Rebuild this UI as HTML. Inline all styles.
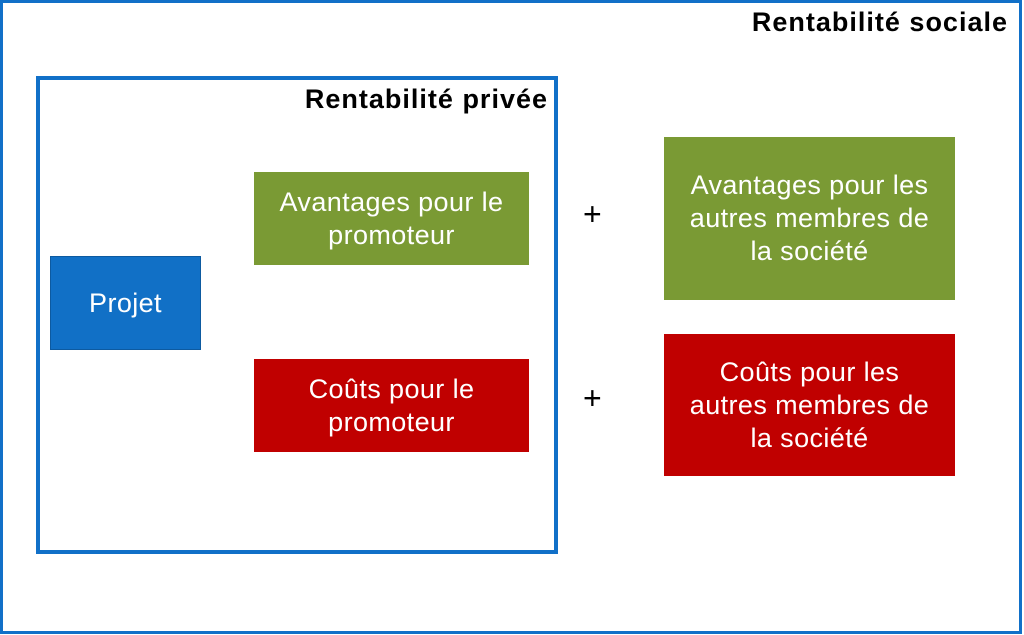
<!DOCTYPE html>
<html><head><style>
body{margin:0;width:1024px;height:635px;background:#fff;position:relative;overflow:hidden;font-family:"Liberation Sans",sans-serif}
.a{position:absolute;box-sizing:border-box}
.b{display:flex;align-items:center;justify-content:center;text-align:center;color:#fff;font-size:27px;line-height:33px;letter-spacing:0.4px}
.t{font-weight:bold;font-size:27px;color:#000;white-space:nowrap;letter-spacing:1px}
.p{font-size:32px;color:#000}
</style></head><body>
<div class="a" style="left:0;top:1;width:1022px;height:634px;border:3px solid #1170c8"></div>
<div class="a t" style="right:16px;top:7px">Rentabilité sociale</div>
<div class="a" style="left:36px;top:76px;width:522px;height:478px;border:4px solid #1170c8"></div>
<div class="a t" style="right:476px;top:84px">Rentabilité privée</div>
<div class="a b" style="left:50px;top:256px;width:151px;height:94px;background:#1170c6;border:1px solid #0d5aa0">Projet</div>
<div class="a b" style="left:254px;top:172px;width:275px;height:93px;background:#7a9a34">Avantages pour le<br>promoteur</div>
<div class="a b" style="left:254px;top:359px;width:275px;height:93px;background:#c00000">Coûts pour le<br>promoteur</div>
<div class="a b" style="left:664px;top:137px;width:291px;height:163px;background:#7a9a34">Avantages pour les<br>autres membres de<br>la société</div>
<div class="a b" style="left:664px;top:334px;width:291px;height:142px;background:#c00000">Coûts pour les<br>autres membres de<br>la société</div>
<div class="a p" style="left:583px;top:196px">+</div>
<div class="a p" style="left:583px;top:380px">+</div>
</body></html>
